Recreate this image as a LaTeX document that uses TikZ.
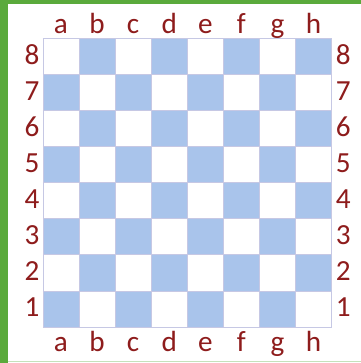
\documentclass[tikz,border=0pt]{standalone}
\usepackage{fontspec}
\setmainfont{Carlito}
\usepackage{xcolor}
\definecolor{boardblue}{HTML}{A9C4EB}
\definecolor{gridline}{HTML}{C6C8E4}
\definecolor{labelred}{HTML}{8E1C1C}
\definecolor{framegreen}{HTML}{5AAA3C}

\begin{document}
\begin{tikzpicture}[x=1cm,y=1cm,
  coordlabel/.style={text=labelred,font=\fontsize{23}{23}\selectfont,inner sep=0pt,anchor=base}]
  \useasboundingbox (-1.19,-1.0) rectangle (8.81,9.06);
  \fill[white] (-1.19,-1.0) rectangle (8.81,9.06);
  \fill[framegreen] (-1.19,-1.0) rectangle (-0.97,9.06);
  \fill[framegreen] (-1.19,8.95) rectangle (8.81,9.06);
  \draw[framegreen!35,thin] (-0.97,-0.95) -- (8.81,-0.95);
  \foreach \i in {0,...,7} {
    \foreach \j in {0,...,7} {
      \pgfmathtruncatemacro\parity{mod(\i+\j,2)}
      \ifnum\parity=0 \fill[boardblue] (\i,\j) rectangle ++(1,1); \fi
    }
  }
  \draw[gridline,thin] (0,0) grid (8,8);
  \foreach \c [count=\k] in {a,b,c,d,e,f,g,h} {
    \node[coordlabel] (top-\c) at (\k-0.5,8.14) {\c};
    \node[coordlabel] (bot-\c) at (\k-0.5,-0.69) {\c};
  }
  \foreach \r in {1,...,8} {
    \node[coordlabel] (left-\r) at (-0.30,\r-0.72) {\r};
    \node[coordlabel] (right-\r) at (8.32,\r-0.72) {\r};
  }
\end{tikzpicture}
\end{document}
